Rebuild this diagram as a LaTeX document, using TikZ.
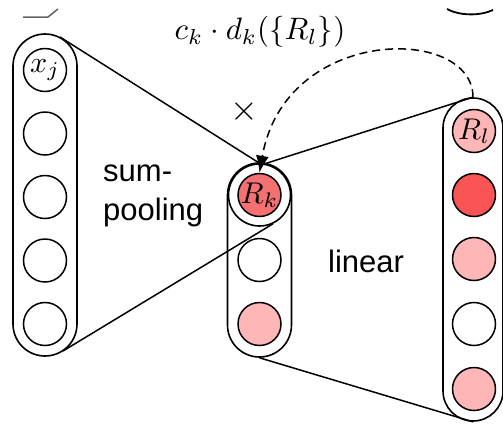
\documentclass[tikz,border=0pt]{standalone}
\usepackage{fontspec}
\setsansfont{Liberation Sans}
\usetikzlibrary{arrows.meta}
\definecolor{rkred}{RGB}{245,112,112}
\definecolor{hotred}{RGB}{250,85,85}
\definecolor{softpink}{RGB}{255,182,182}
\begin{document}
\begin{tikzpicture}[x=1pt,y=-1pt,
  col/.style={draw, line width=1.6pt, rectangle, inner sep=0pt},
  unit/.style={draw, circle, line width=1.5pt, minimum size=43pt, inner sep=0pt},
  ulab/.style={inner sep=0pt, font=\fontsize{10}{12}\selectfont, scale=3.0},
  ring/.style={draw, circle, line width=1.6pt, minimum size=62pt, inner sep=0pt},
  conn/.style={line width=1.5pt},
  lab/.style={font=\fontsize{31}{36}\selectfont\sffamily, inner sep=0pt},
  mlab/.style={font=\fontsize{10}{12}\selectfont, inner sep=0pt, scale=3.1}]
\useasboundingbox (0,0) rectangle (503,424);

% stray fragments at the top edge
\draw[black!60, line width=1.5pt] (23,17) -- (48,17) -- (58,9);
\draw[line width=1.8pt] (447,9) .. controls (460,16) and (480,16) .. (493,10);

% columns
\node[col, rounded corners=32pt, minimum width=64pt, minimum height=322pt] (Lcol) at (45,195) {};
\node[col, rounded corners=32pt, minimum width=64pt, minimum height=194pt] (Mcol) at (259.5,260) {};
\node[col, rounded corners=30pt, minimum width=60pt, minimum height=323pt] (Rcol) at (473,259.5) {};

% left units
\node[unit] (L1) at (45,70) {};
\node[ulab] (L1t) at (L1.center) {$x_j$};
\node[unit] (L2) at (45,133.5) {};
\node[unit] (L3) at (45,197) {};
\node[unit] (L4) at (45,260.5) {};
\node[unit] (L5) at (45,324) {};

% middle units
\node[ring] (Mring) at (259.5,195) {};
\node[unit, fill=rkred] (M1) at (259.5,195) {};
\node[ulab] (M1t) at (M1.center) {$R_k$};
\node[unit] (M2) at (259.5,260) {};
\node[unit, fill=softpink] (M3) at (259.5,324) {};

% right units
\node[unit, fill=softpink] (R1) at (474,131) {};
\node[ulab] (R1t) at (R1.center) {$R_l$};
\node[unit, fill=hotred] (R2) at (474,195) {};
\node[unit, fill=softpink] (R3) at (474,259) {};
\node[unit] (R4) at (474,324) {};
\node[unit, fill=softpink] (R5) at (474,389) {};

% labels
\node[mlab] (lbl) at (260,32) {$c_k\cdot d_k(\{R_l\})$};
\node[mlab, scale=1.15] (times) at (244,112) {$\times$};
\node[lab, anchor=base west] (sum) at (103,181) {sum-};
\node[lab, anchor=base west] (pool) at (103,220) {pooling};
\node[lab, anchor=base west] (lin) at (328,272) {linear};

% connector end points on the rounded column ends
\coordinate (Ltop) at (60,37);
\coordinate (Lbot) at (63,351);
\coordinate (c1) at (473,25);
\coordinate (c2) at (285,25);

% connectors
\draw[conn] (Ltop) -- (Mring.north);
\draw[conn] (Lbot) -- (Mring.-65);
\draw[conn] (Mring.80) -- (Rcol.north);
\draw[conn] (Mcol.south) -- (Rcol.south);
\draw[conn, dashed, dash pattern=on 8pt off 5pt, -{Latex[length=17pt,width=13pt]}] (Rcol.north) .. controls (c1) and (c2) .. (M1.north);
\end{tikzpicture}
\end{document}
